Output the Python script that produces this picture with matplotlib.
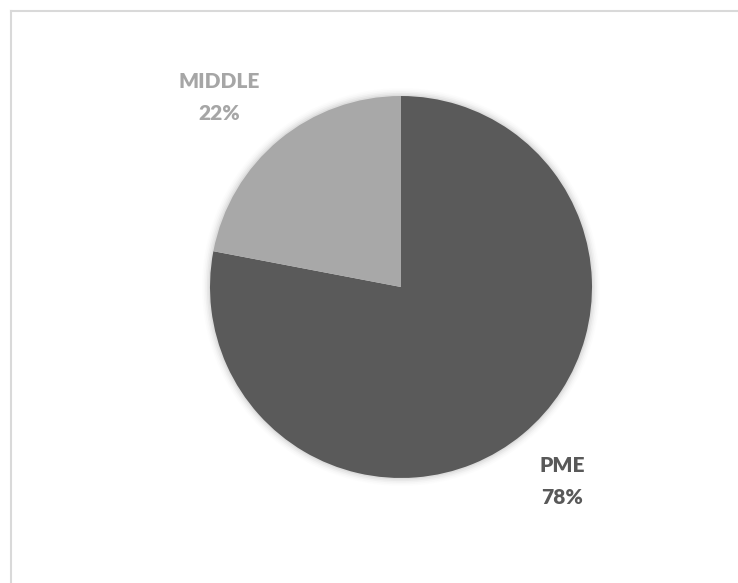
import matplotlib
matplotlib.use("Agg")
import matplotlib.pyplot as plt
from matplotlib.patches import Circle

categories = ["PME", "MIDDLE"]
values = [78, 22]
colors = ["#5a5a5a", "#a8a8a8"]
label_colors = ["#595959", "#a6a6a6"]

W, H = 738, 583
fig = plt.figure(figsize=(W / 100, H / 100), dpi=100)
ax = fig.add_axes([0, 0, 1, 1])

cx, cy, r = 401, H - 287, 191

# soft glow/shadow around pie
for i, a in enumerate([0.10, 0.07, 0.05, 0.03, 0.02]):
    ax.add_patch(Circle((cx, cy), r + 1.5 + i * 1.6, color="#808080", alpha=a, lw=0, zorder=0))

ax.pie(values, colors=colors, startangle=90, counterclock=False,
       center=(cx, cy), radius=r, frame=True,
       wedgeprops=dict(linewidth=0, zorder=1))
ax.set_xlim(0, W)
ax.set_ylim(0, H)
ax.set_aspect("equal")
ax.axis("off")

font = ["Lato", "DejaVu Sans"]
pos = {"PME": (562, 465), "MIDDLE": (219, 81)}
for cat, v, c in zip(categories, values, label_colors):
    x, y = pos[cat]
    ax.text(x, H - y, cat, ha="center", va="center", color=c, fontsize=15,
            fontweight="heavy", family=font)
    ax.text(x, H - y - 32, f"{v}%", ha="center", va="center", color=c, fontsize=15,
            fontweight="heavy", family=font)

# chart area frame (top and left visible)
ax.plot([11, W], [H - 10.5, H - 10.5], color="#d9d9d9", lw=1.5, clip_on=False)
ax.plot([11, 11], [H - 10.5, 0], color="#d9d9d9", lw=1.5, clip_on=False)

fig.savefig("out.png", dpi=100)
